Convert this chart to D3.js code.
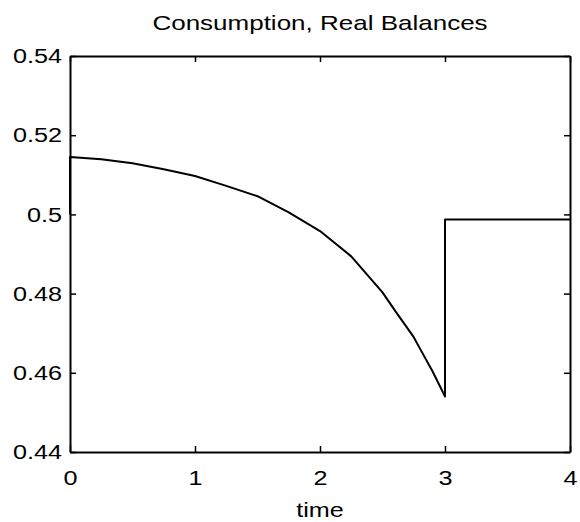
<!DOCTYPE html>
<html>
<head>
<meta charset="utf-8">
<script src="https://cdn.jsdelivr.net/npm/d3@7"></script>
<style>
  html, body { margin: 0; padding: 0; background: #fff; }
  svg { display: block; }
  text { font-family: "Liberation Sans", Arial, Helvetica, sans-serif; fill: #000; }
</style>
</head>
<body>
<svg id="chart" width="580" height="522"></svg>
<script>
// ---- data ----
const titleText = "Consumption, Real Balances";
const xLabel = "time";
const time = [0, 0, 0.25, 0.5, 0.75, 1.0, 1.25, 1.5, 1.75, 2.0, 2.25, 2.5, 2.6, 2.75, 2.8, 2.9, 3.0, 3.0, 4.0];
const consumption = [0.500, 0.5145, 0.5139, 0.5129, 0.5114, 0.5097, 0.5072, 0.5046, 0.5005, 0.4958, 0.4894, 0.4803, 0.4757, 0.4690, 0.4661, 0.4604, 0.4540, 0.4987, 0.4987];
const xTicks = [0, 1, 2, 3, 4];
const yTicks = [0.44, 0.46, 0.48, 0.50, 0.52, 0.54];
const yTickLabels = ["0.44", "0.46", "0.48", "0.5", "0.52", "0.54"];

// ---- layout ----
const svg = d3.select("#chart");
const x = d3.scaleLinear().domain([0, 4]).range([70, 570]);
const y = d3.scaleLinear().domain([0.44, 0.54]).range([452, 56]);
const tickLen = 6;
const stretch = 1.2;

// horizontally widen glyphs (reference font is wide) while keeping anchor position
function widen(sel, factor) {
  sel.each(function () {
    const t = d3.select(this);
    const x0 = +(t.attr("x") || 0);
    t.attr("x", x0 / factor).attr("transform", `scale(${factor},1)`);
  });
}

const gB = svg.append("g").attr("transform", `translate(0,${y(0.44)})`)
  .call(d3.axisBottom(x).tickValues(xTicks).tickFormat(d3.format("d")).tickSizeInner(-tickLen).tickSizeOuter(0).tickPadding(18));
const gT = svg.append("g").attr("transform", `translate(0,${y(0.54)})`)
  .call(d3.axisTop(x).tickValues(xTicks).tickFormat("").tickSizeInner(-tickLen).tickSizeOuter(0));
const gL = svg.append("g").attr("transform", `translate(${x(0)},0)`)
  .call(d3.axisLeft(y).tickValues(yTicks).tickFormat((d, i) => yTickLabels[i]).tickSizeInner(-tickLen).tickSizeOuter(0).tickPadding(8));
const gR = svg.append("g").attr("transform", `translate(${x(4)},0)`)
  .call(d3.axisRight(y).tickValues(yTicks).tickFormat("").tickSizeInner(-tickLen).tickSizeOuter(0));

[gB, gT, gL, gR].forEach(g => {
  g.select(".domain").attr("stroke", "#000").attr("stroke-width", 2);
  g.selectAll(".tick line").attr("stroke", "#000").attr("stroke-width", 1.5);
  g.selectAll(".tick text").attr("font-size", 21).attr("font-family", "'Liberation Sans', Arial, sans-serif").attr("fill", "#000");
});
widen(gB.selectAll(".tick text"), stretch);
widen(gL.selectAll(".tick text"), stretch);

// data line
const line = d3.line().x((d, i) => x(time[i])).y(d => y(d));
svg.append("path")
  .datum(consumption)
  .attr("d", line)
  .attr("fill", "none")
  .attr("stroke", "#000")
  .attr("stroke-width", 2)
  .attr("stroke-linejoin", "round");

// title
svg.append("g").attr("transform", `translate(${(x(0) + x(4)) / 2},30)`)
  .append("text")
  .attr("text-anchor", "middle")
  .attr("font-size", 20)
  .attr("transform", "scale(1.3,1)")
  .text(titleText);

// x label
svg.append("g").attr("transform", `translate(${(x(0) + x(4)) / 2},517)`)
  .append("text")
  .attr("text-anchor", "middle")
  .attr("font-size", 21)
  .attr("transform", `scale(${stretch},1)`)
  .text(xLabel);
</script>
</body>
</html>
